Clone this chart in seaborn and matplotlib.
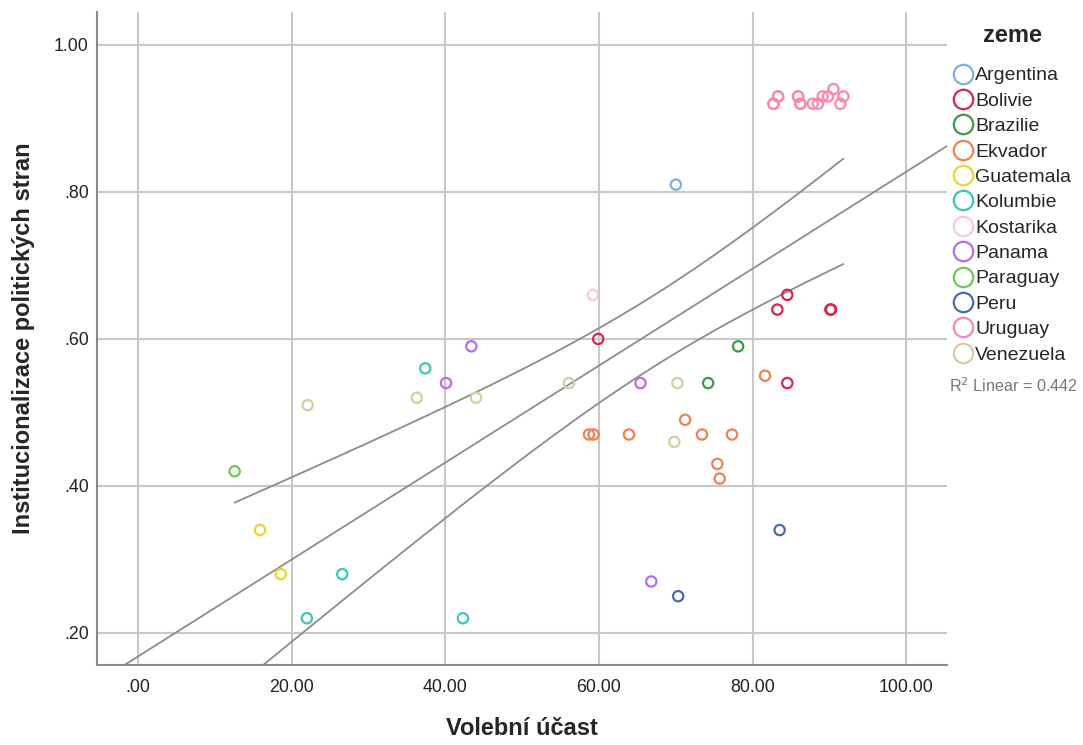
import numpy as np
import pandas as pd
import matplotlib
matplotlib.use("Agg")
import matplotlib.pyplot as plt
import seaborn as sns
from matplotlib.lines import Line2D
from matplotlib.ticker import FuncFormatter

# --- data ---
zeme_poradi = ["Argentina", "Bolivie", "Brazilie", "Ekvador", "Guatemala", "Kolumbie",
               "Kostarika", "Panama", "Paraguay", "Peru", "Uruguay", "Venezuela"]
barvy = ["#7eaee6", "#dc2350", "#3f9a45", "#f5804f", "#ecd62e", "#3cc8b8",
         "#fbc6da", "#b56cf0", "#6fc955", "#4a68b4", "#fb86b0", "#d6cf9c"]

# Uruguay: 11 visible circles + 4 that sit exactly on top of others
# (needed so that the fit matches the drawn line / R2 of the reference)
zeme = (["Argentina"]
        + ["Bolivie"] * 6
        + ["Brazilie"] * 2
        + ["Ekvador"] * 9
        + ["Guatemala"] * 2
        + ["Kolumbie"] * 4
        + ["Kostarika"]
        + ["Panama"] * 4
        + ["Paraguay"]
        + ["Peru"] * 2
        + ["Uruguay"] * 15
        + ["Venezuela"] * 6)

ucast = ([70.0]
         + [59.9, 83.2, 84.5, 90.1, 90.2, 84.5]
         + [78.1, 74.2]
         + [81.6, 71.2, 58.7, 59.3, 63.9, 73.4, 77.3, 75.4, 75.7]
         + [15.9, 18.6]
         + [37.4, 26.6, 22.0, 42.3]
         + [59.2]
         + [43.4, 40.1, 65.4, 66.8]
         + [12.6]
         + [83.5, 70.3]
         + [82.7, 83.3, 85.9, 86.2, 87.8, 88.5, 89.1, 89.8, 90.5, 91.4, 91.8,
            82.7, 83.3, 85.9, 86.2]
         + [22.1, 36.3, 44.0, 56.1, 70.2, 69.8])

instit = ([0.81]
          + [0.60, 0.64, 0.66, 0.64, 0.64, 0.54]
          + [0.59, 0.54]
          + [0.55, 0.49, 0.47, 0.47, 0.47, 0.47, 0.47, 0.43, 0.41]
          + [0.34, 0.28]
          + [0.56, 0.28, 0.22, 0.22]
          + [0.66]
          + [0.59, 0.54, 0.54, 0.27]
          + [0.42]
          + [0.34, 0.25]
          + [0.92, 0.93, 0.93, 0.92, 0.92, 0.92, 0.93, 0.93, 0.94, 0.92, 0.93,
             0.92, 0.93, 0.93, 0.92]
          + [0.51, 0.52, 0.52, 0.54, 0.54, 0.46])

r2_text = "0.442"

df = pd.DataFrame({"zeme": zeme, "ucast": ucast, "instit": instit})

# --- figure ---
sns.set_theme(style="white")
plt.rcParams["font.family"] = ["Liberation Sans", "DejaVu Sans"]

fig = plt.figure(figsize=(10.83, 7.45), dpi=100)
ax = fig.add_axes([0.0896, 0.107, 0.785, 0.877])

sns.scatterplot(data=df, x="ucast", y="instit", hue="zeme", hue_order=zeme_poradi,
                palette=barvy, s=55, linewidth=1.6, legend=False, ax=ax, zorder=3)
# hollow markers like SPSS
coll = ax.collections[0]
coll.set_edgecolors(coll.get_facecolors())
coll.set_facecolors("none")

# linear fit + 95% CI of the mean
x = df["ucast"].to_numpy()
y = df["instit"].to_numpy()
n = len(x)
b1, b0 = np.polyfit(x, y, 1)
pred = b0 + b1 * x
s = np.sqrt(np.sum((y - pred) ** 2) / (n - 2))
sxx = np.sum((x - x.mean()) ** 2)
t = 2.01

xl = np.linspace(-5.3, 105.3, 200)
ax.plot(xl, b0 + b1 * xl, color="#8c8c8c", lw=1.3, zorder=2)
xc = np.linspace(x.min(), x.max(), 200)
se = s * np.sqrt(1 / n + (xc - x.mean()) ** 2 / sxx)
ax.plot(xc, b0 + b1 * xc + t * se, color="#8c8c8c", lw=1.3, zorder=2)
ax.plot(xc, b0 + b1 * xc - t * se, color="#8c8c8c", lw=1.3, zorder=2)

ax.set_xlim(-5.3, 105.3)
ax.set_ylim(0.156, 1.045)
ax.set_xticks([0, 20, 40, 60, 80, 100])
ax.set_yticks([0.2, 0.4, 0.6, 0.8, 1.0])

fmt = FuncFormatter(lambda v, p: f"{v:.2f}"[1:] if f"{v:.2f}".startswith("0") else f"{v:.2f}")
ax.xaxis.set_major_formatter(fmt)
ax.yaxis.set_major_formatter(fmt)

ax.grid(True, color="#c8c8c8", lw=1.5, zorder=0)
ax.set_axisbelow(True)
for side in ["top", "right"]:
    ax.spines[side].set_visible(False)
for side in ["left", "bottom"]:
    ax.spines[side].set_color("#8a8a8a")
    ax.spines[side].set_linewidth(1.5)
ax.tick_params(axis="both", length=0, labelsize=12.8, colors="#222222")
ax.tick_params(axis="x", pad=10)
ax.tick_params(axis="y", pad=6)

ax.set_xlabel("Volební účast", fontsize=17, fontweight="bold", labelpad=15)
ax.set_ylabel("Institucionalizace politických stran", fontsize=17, fontweight="bold", labelpad=14)

# legend
handles = [Line2D([], [], marker="o", linestyle="", markersize=14, markerfacecolor="none",
                  markeredgecolor=c, markeredgewidth=1.6) for c in barvy]
leg = ax.legend(handles, zeme_poradi, title="zeme", loc="upper left",
                bbox_to_anchor=(1.0, 0.99), frameon=False, fontsize=14,
                title_fontproperties={"weight": "bold", "size": 17},
                handletextpad=0.15, labelspacing=0.4, borderaxespad=0.0,
                borderpad=0.3, handlelength=1.0)
leg._legend_box.sep = 14  # extra gap under the title

fig.text(0.876, 0.483, "R$^2$ Linear = " + r2_text, fontsize=11.6, color="#777777",
         ha="left", va="center")

fig.savefig("out.png", dpi=100)
